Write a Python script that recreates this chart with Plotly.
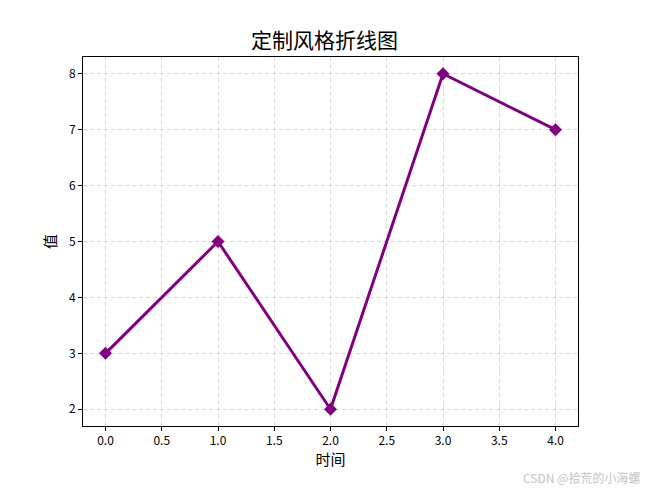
import plotly.graph_objects as go

x_vals = [0, 1, 2, 3, 4]
y_vals = [3, 5, 2, 8, 7]
x_ticks = [0, 0.5, 1, 1.5, 2, 2.5, 3, 3.5, 4]
x_tick_labels = ["0.0", "0.5", "1.0", "1.5", "2.0", "2.5", "3.0", "3.5", "4.0"]
y_ticks = [2, 3, 4, 5, 6, 7, 8]

FONT = "Noto Sans CJK SC"

fig = go.Figure()
fig.add_trace(go.Scatter(
    x=x_vals, y=y_vals, mode="lines+markers",
    line=dict(color="purple", width=3),
    marker=dict(symbol="diamond", size=10, color="purple"),
))

axis_common = dict(
    showline=True, linecolor="black", linewidth=1, mirror=True,
    ticks="outside", ticklen=4, tickcolor="black",
    showgrid=True, gridcolor="#d9d9d9", griddash="4px,3px", gridwidth=1,
    zeroline=False, tickfont=dict(family=FONT, size=12, color="black"),
)

fig.update_layout(
    width=649, height=492,
    paper_bgcolor="white", plot_bgcolor="white",
    margin=dict(l=83, r=71, t=57, b=66),
    showlegend=False,
    title=dict(text="定制风格折线图", x=0.5, xanchor="center", y=0.918, yanchor="middle",
               font=dict(family=FONT, size=21, color="black")),
    xaxis=dict(range=[-0.2, 4.2], tickvals=x_ticks, ticktext=x_tick_labels,
               title=dict(text="时间", font=dict(family=FONT, size=15, color="black"), standoff=6),
               **axis_common),
    yaxis=dict(range=[1.7, 8.3], tickvals=y_ticks,
               title=dict(text="值", font=dict(family=FONT, size=15, color="black"), standoff=8),
               **axis_common),
    annotations=[dict(text="CSDN @拾荒的小海螺", xref="paper", yref="paper",
                      x=1.13, y=-0.11, xanchor="right", yanchor="top", showarrow=False,
                      font=dict(family=FONT, size=12, color="#c4c4c4"))],
)

fig.write_html("out.html", config={"displayModeBar": False},
               post_script="document.body.style.margin='0';")
